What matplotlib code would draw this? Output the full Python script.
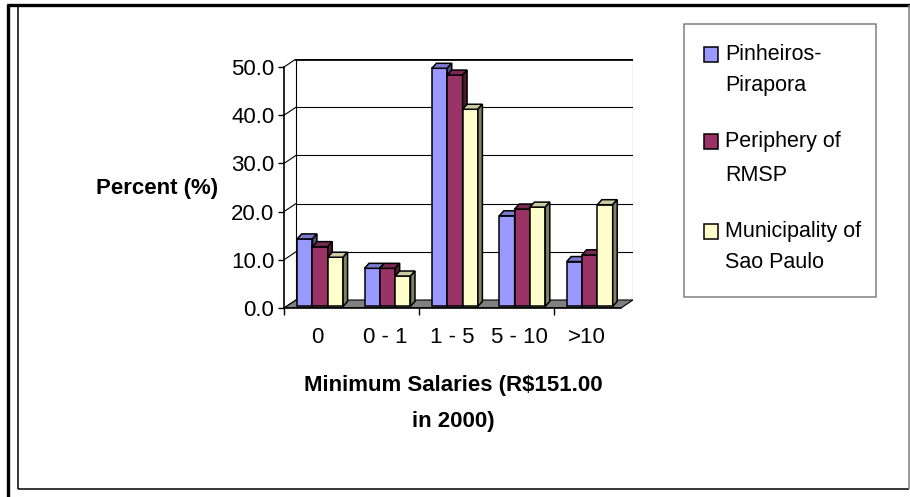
import matplotlib
matplotlib.use("Agg")
import matplotlib.pyplot as plt
from matplotlib.lines import Line2D
from matplotlib.patches import Rectangle, Polygon
import numpy as np

plt.rcParams['font.family'] = ['Liberation Sans', 'DejaVu Sans']

# data
categories = ['0', '0 - 1', '1 - 5', '5 - 10', '>10']
series = ['Pinheiros-\nPirapora', 'Periphery of\nRMSP', 'Municipality of\nSao Paulo']
pinheiros = [14.0, 7.9, 49.4, 18.8, 9.3]
periphery = [12.4, 7.9, 48.0, 20.2, 10.7]
municipality = [10.2, 6.3, 40.9, 20.6, 21.1]
values = [pinheiros, periphery, municipality]
yticks = [0, 10, 20, 30, 40, 50]

face = ['#9999FF', '#993366', '#FFFFCC']
top_c = ['#7A7ACC', '#7A2952', '#CCCCA3']
side_c = ['#4D4D80', '#4D1A33', '#808066']

W, H = 910, 497
fig = plt.figure(figsize=(W / 100, H / 100), dpi=100)


def fx(x):
    return x / W


def fy(y):
    return 1 - y / H


# outer frame
def fline(x0, y0, x1, y1, lw, c='black'):
    fig.add_artist(Line2D([fx(x0), fx(x1)], [fy(y0), fy(y1)], lw=lw, color=c,
                          solid_capstyle='butt'))


fline(7, 5, 910, 5, 2.4)
fline(8, 4, 8, 497, 2.4)
fline(18, 5, 18, 489, 1.1)
fline(18, 489, 909, 489, 1.1)
fline(909, 5, 909, 489, 1.1, '#808080')

# axes: x in category units, y in percent
depth_x, depth_y = 0.178, 1.66     # floor depth
ax = fig.add_axes([fx(284), fy(308), 349 / W, 249 / H])
ax.set_xlim(-0.5, 4.5 + depth_x)
ax.set_ylim(0, 50 + depth_y)
ax.patch.set_visible(False)
for s in ['top', 'right']:
    ax.spines[s].set_visible(False)
ax.spines['left'].set_bounds(0, 50)
ax.spines['bottom'].set_bounds(-0.5, 4.5)
ax.spines['left'].set_linewidth(1.2)
ax.spines['bottom'].set_linewidth(1.2)

bx0, bx1 = -0.5 + depth_x, 4.5 + depth_x
# back wall gridlines and side connectors
for v in yticks:
    lw = 2.0 if v == 50 else 0.8
    if v > 0:
        ax.plot([bx0, bx1], [v + depth_y, v + depth_y], color='black', lw=lw, zorder=1)
    ax.plot([-0.5, bx0], [v, v + depth_y], color='black', lw=0.8, zorder=1)
ax.plot([bx0, bx0], [depth_y, 50 + depth_y], color='black', lw=0.8, zorder=1)
ax.plot([bx1, bx1], [depth_y, 50 + depth_y], color='black', lw=0.8, zorder=1)

# floor
ax.add_patch(Polygon([(-0.5, 0), (4.5, 0), (bx1, depth_y), (bx0, depth_y)],
                     closed=True, facecolor='#808080', edgecolor='black', lw=0.8, zorder=2))

# bars
bw = 0.2274
f = 0.2
sx, sy = f * depth_x, f * depth_y
ddx, ddy = 4.5 / 67.4, 5 / 4.82
x = np.arange(len(categories))
for j, vals in enumerate(values):
    left = x - 1.5 * bw + j * bw + sx
    ax.bar(left, vals, width=bw, bottom=sy, align='edge', color=face[j],
           edgecolor='black', lw=1.1, zorder=3 + j)
    for xl, v in zip(left, vals):
        xr = xl + bw
        t = sy + v
        ax.add_patch(Polygon([(xl, t), (xl + ddx, t + ddy), (xr + ddx, t + ddy), (xr, t)],
                             closed=True, facecolor=top_c[j], edgecolor='black',
                             lw=1.1, zorder=3 + j))
        ax.add_patch(Polygon([(xr, sy), (xr + ddx, sy + ddy), (xr + ddx, t + ddy), (xr, t)],
                             closed=True, facecolor=side_c[j], edgecolor='black',
                             lw=1.1, zorder=3 + j))

# ticks
ax.set_yticks(yticks)
ax.set_yticklabels(['%.1f' % v for v in yticks])
ax.tick_params(axis='y', length=4, width=1, pad=3, labelsize=16)
ax.set_xticks([-0.5, 1.5, 3.5])
ax.set_xticklabels([])
ax.set_xticks(x, minor=True)
ax.set_xticklabels(categories, minor=True)
ax.tick_params(axis='x', which='major', length=5, width=1)
ax.tick_params(axis='x', which='minor', length=0, pad=14, labelsize=16)

# axis titles
fig.text(fx(157), fy(189), 'Percent (%)', fontsize=16, fontweight='bold',
         ha='center', va='center')
fig.text(fx(453.5), fy(385), 'Minimum Salaries (R$151.00', fontsize=16,
         fontweight='bold', ha='center', va='center', parse_math=False)
fig.text(fx(453), fy(421), 'in 2000)', fontsize=16, fontweight='bold',
         ha='center', va='center')

# legend
fig.add_artist(Rectangle((fx(684), fy(297)), 192 / W, 273 / H, facecolor='none',
                         edgecolor='#808080', lw=1.1))
baselines = [(60, 91), (147, 181), (237, 268)]
for j, name in enumerate(series):
    l1, l2 = name.split('\n')
    b1, b2 = baselines[j]
    fig.add_artist(Rectangle((fx(704), fy(b1 + 2)), 14 / W, 15 / H,
                             facecolor=face[j], edgecolor='black', lw=1.1))
    fig.text(fx(725), fy(b1), l1, fontsize=15.5, va='baseline', ha='left')
    fig.text(fx(725), fy(b2), l2, fontsize=15.5, va='baseline', ha='left')

fig.savefig('out.png', dpi=100)
